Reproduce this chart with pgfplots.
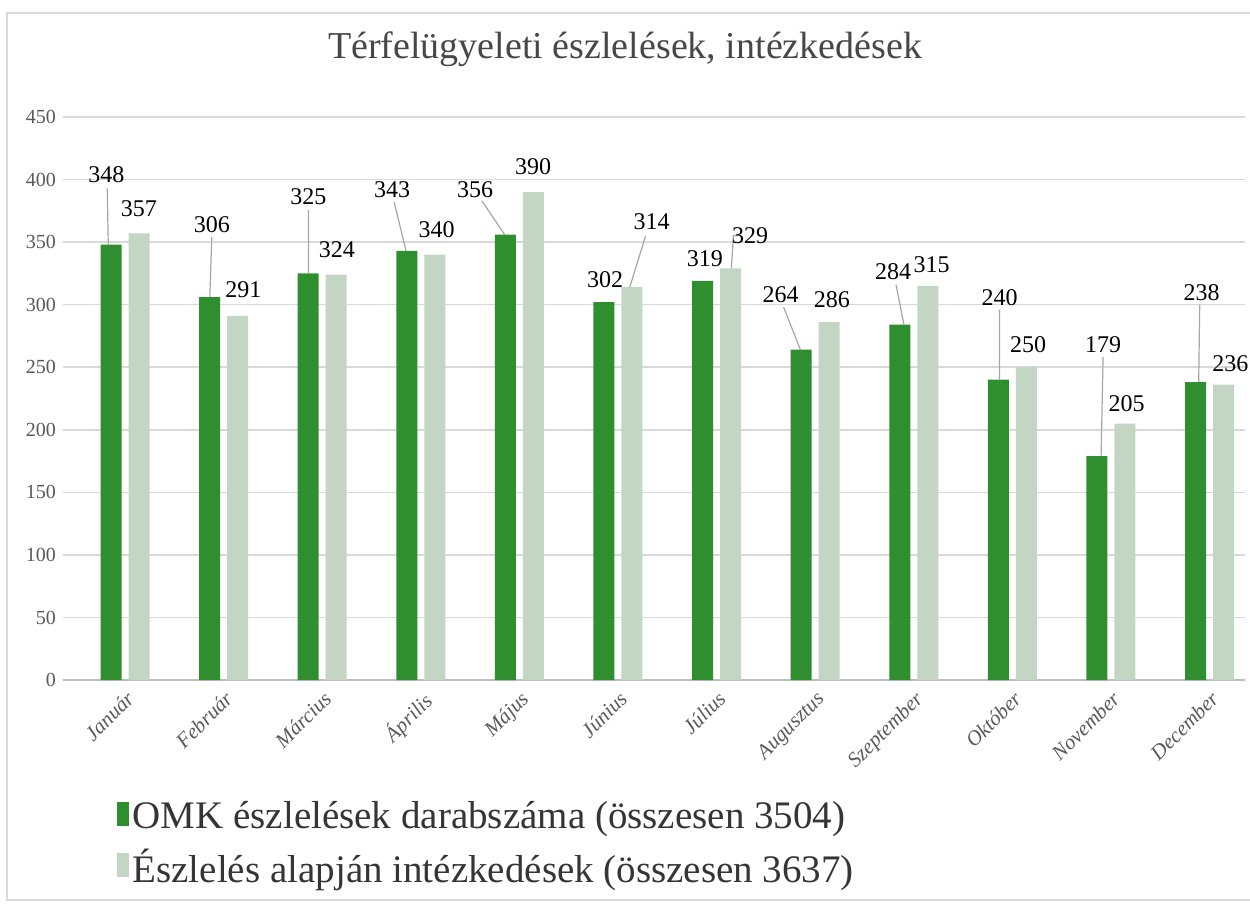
\documentclass[border=0pt]{standalone}
\usepackage{fontspec}
\setmainfont{LiberationSerif}[Extension=.ttf, UprightFont=*-Regular, ItalicFont=*-Italic, BoldFont=*-Bold, BoldItalicFont=*-BoldItalic]
\usepackage{pgfplots}
\pgfplotsset{compat=1.18}
\definecolor{omk}{HTML}{2F8F2F}
\definecolor{intez}{HTML}{C3D6C3}
\definecolor{txtgray}{HTML}{595959}
\definecolor{gridgray}{HTML}{D9D9D9}
\definecolor{leader}{HTML}{A6A6A6}

\begin{document}
\begin{tikzpicture}
\begin{axis}[
  width=591pt, height=281.5pt, scale only axis,
  xmin=-0.629, xmax=11.36, ymin=0, ymax=450,
  ytick={0,50,...,450},
  xtick={0,...,11},
  xticklabels={Január,Február,Március,Április,Május,Június,Július,Augusztus,Szeptember,Október,November,December},
  x tick label style={rotate=45, anchor=north east, font=\fontsize{10.5}{12}\selectfont\itshape, text=txtgray},
  y tick label style={font=\fontsize{10}{12}\selectfont, text=txtgray},
  /pgf/number format/assume math mode=true,
  ymajorgrids, grid style={gridgray, line width=0.8pt},
  axis x line*=bottom, axis y line*=left,
  x axis line style={gridgray!70!gray, line width=0.8pt},
  y axis line style={draw=none},
  major tick length=0pt,
  clip=false,
  unbounded coords=jump,
  legend style={at={(0.04,-0.20)}, anchor=north west, draw=none, fill=none,
    font=\fontsize{19.5}{23}\selectfont, text=txtgray!60!black, row sep=5pt,
    /tikz/every even column/.append style={column sep=2pt}},
  legend cell align=left,
  legend image code/.code={\fill[#1] (0pt,-5pt) rectangle (6pt,7pt);},
]
\addplot[ybar, bar width=0.213, bar shift=-0.142, fill=omk, draw=none]
  coordinates {(0,348) (1,306) (2,325) (3,343) (4,356) (5,302) (6,319) (7,264) (8,284) (9,240) (10,179) (11,238)};
\addlegendentry{OMK észlelések darabszáma (összesen 3504)}
\addplot[ybar, bar width=0.213, bar shift=0.142, fill=intez, draw=none]
  coordinates {(0,357) (1,291) (2,324) (3,340) (4,390) (5,314) (6,329) (7,286) (8,315) (9,250) (10,205) (11,236)};
\addlegendentry{Észlelés alapján intézkedések (összesen 3637)}

% leader lines
\addplot[leader, line width=0.6pt, forget plot] coordinates {
  (-0.18,393) (-0.17,348) (nan,nan)
  (0.88,354) (0.86,306) (nan,nan)
  (1.86,376) (1.86,325) (nan,nan)
  (2.73,382) (2.85,343) (nan,nan)
  (3.62,383) (3.85,356) (nan,nan)
  (5.28,355) (5.12,314) (nan,nan)
  (6.22,355) (6.17,355) (6.15,329) (nan,nan)
  (6.68,298) (6.85,264) (nan,nan)
  (7.82,316) (7.9,284) (nan,nan)
  (8.87,296) (8.87,240) (nan,nan)
  (9.92,258) (9.9,179) (nan,nan)
  (10.9,300) (10.89,238)
};

% data labels
\addplot[draw=none, mark=none, forget plot,
  nodes near coords, point meta=explicit symbolic,
  nodes near coords align=center,
  every node near coord/.append style={font=\fontsize{12}{14}\selectfont, text=black, inner sep=0pt}]
  table[meta=lab] {
  x     y     lab
 -0.19  404   348
  0.14  377   357
  0.88  364   306
  1.20  312   291
  1.86  386   325
  2.15  344   324
  2.71  392   343
  3.16  360   340
  3.55  392   356
  4.14  410   390
  4.87  320   302
  5.34  366   314
  5.88  337   319
  6.34  355   329
  6.65  308   264
  7.17  304   286
  7.79  326   284
  8.18  332   315
  8.87  306   240
  9.16  268   250
  9.92  268   179
 10.16  221   205
 10.92  310   238
 11.21  253   236
};

\node[font=\fontsize{19}{22}\selectfont, text=txtgray!80!black] at (rel axis cs:0.4755,1.12) {Térfelügyeleti észlelések, intézkedések};
\draw[gridgray, line width=0.8pt] (rel axis cs:-0.0474,-0.391) rectangle (rel axis cs:1.01,1.1847);
\coordinate (bbll) at (rel axis cs:-0.0533,-0.4085);
\coordinate (bbur) at (rel axis cs:1.0042,1.2078);
\end{axis}
\pgfresetboundingbox
\path[use as bounding box] (bbll) rectangle (bbur);
\end{tikzpicture}
\end{document}
